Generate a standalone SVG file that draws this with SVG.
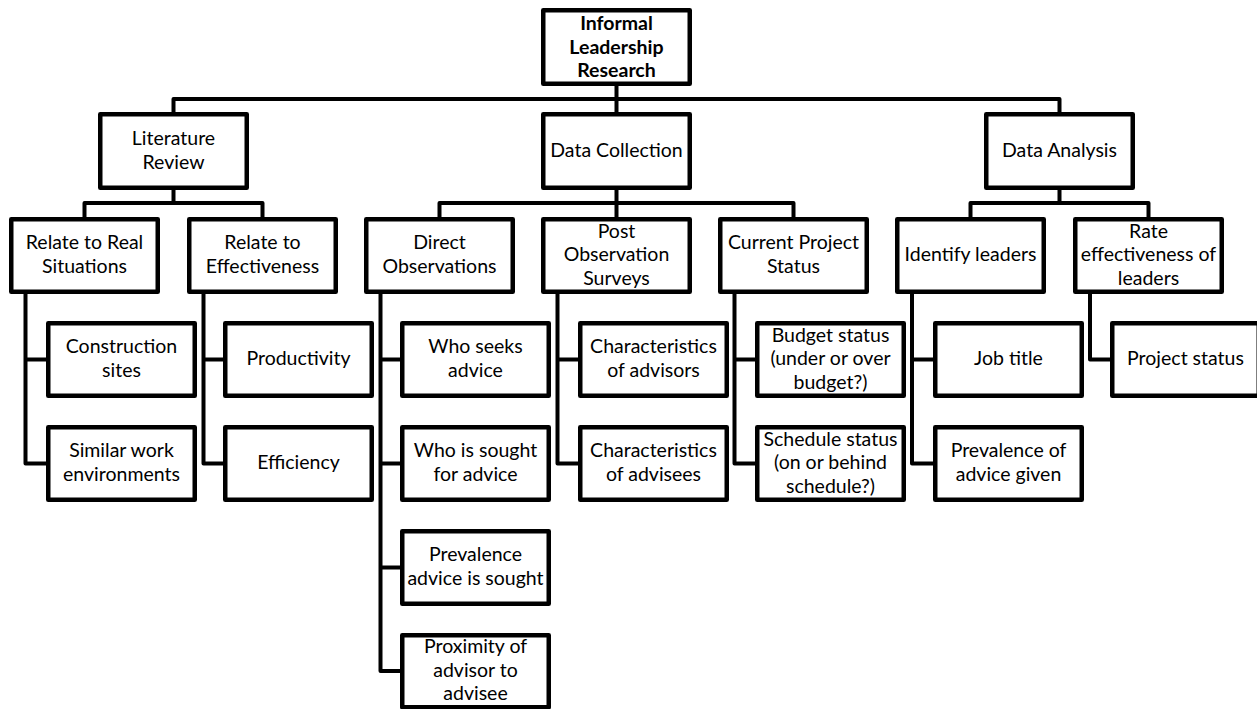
<svg xmlns="http://www.w3.org/2000/svg" width="1257" height="709" viewBox="0 0 1257 709">
<style>
.box{fill:#fff;stroke:#000;stroke-width:4.5;stroke-linejoin:round}
.ln{fill:none;stroke:#000;stroke-width:4;stroke-linejoin:round}
text{font-family:Lato,"Open Sans",sans-serif;font-size:19.5px;fill:#000;text-anchor:middle}
.b{font-weight:bold}
</style>
<rect width="1257" height="709" fill="#fff"/>
<g id="connectors">
<path class="ln" d="M616.5 86V217M173.5 112V99H1059.5V112"/>
<path class="ln" d="M173.5 190V203M84.5 217V203H262.5V217"/>
<path class="ln" d="M439.5 217V203H793.5V217"/>
<path class="ln" d="M1059.5 190V203M970.5 217V203H1148.5V217"/>
<path class="ln" d="M25.5 293V463.5H46M25.5 359.5H46"/>
<path class="ln" d="M203.5 293V463.5H223M203.5 359.5H223"/>
<path class="ln" d="M380.5 293V671H400M380.5 359.5H400M380.5 463.5H400M380.5 567.5H400"/>
<path class="ln" d="M557.5 293V463.5H578M557.5 359.5H578"/>
<path class="ln" d="M734.5 293V463.5H755M734.5 359.5H755"/>
<path class="ln" d="M912 293V463.5H933M912 359.5H933"/>
<path class="ln" d="M1090 293V359.5H1110"/>
</g>
<g id="root"><rect class="box" x="543.25" y="10.25" width="146.5" height="73.5"/>
<text class="b" x="616.5" y="30">Informal</text><text class="b" x="616.5" y="53.5">Leadership</text><text class="b" x="616.5" y="77">Research</text></g>
<g id="lit-review"><rect class="box" x="100.25" y="114.25" width="146.5" height="73.5"/>
<text x="173.5" y="145.3">Literature</text><text x="173.5" y="168.8">Review</text></g>
<g id="data-collection"><rect class="box" x="543.25" y="114.25" width="146.5" height="73.5"/>
<text x="616.5" y="157.3">Data Collection</text></g>
<g id="data-analysis"><rect class="box" x="986.25" y="114.25" width="146.5" height="73.5"/>
<text x="1059.5" y="157.3">Data Analysis</text></g>
<g id="relate-real"><rect class="box" x="11.25" y="219.25" width="146.5" height="72.5"/>
<text x="84.5" y="249.3">Relate to Real</text><text x="84.5" y="272.8">Situations</text></g>
<g id="relate-eff"><rect class="box" x="189.25" y="219.25" width="146.5" height="72.5"/>
<text x="262.5" y="249.3">Relate to</text><text x="262.5" y="272.8">Effectiveness</text></g>
<g id="direct-obs"><rect class="box" x="366.25" y="219.25" width="146.5" height="72.5"/>
<text x="439.5" y="249.3">Direct</text><text x="439.5" y="272.8">Observations</text></g>
<g id="post-obs"><rect class="box" x="543.25" y="219.25" width="146.5" height="72.5"/>
<text x="616.5" y="237.8">Post</text><text x="616.5" y="261.3">Observation</text><text x="616.5" y="284.8">Surveys</text></g>
<g id="current-status"><rect class="box" x="720.25" y="219.25" width="146.5" height="72.5"/>
<text x="793.5" y="249.3">Current Project</text><text x="793.5" y="272.8">Status</text></g>
<g id="identify"><rect class="box" x="897.25" y="219.25" width="146.5" height="72.5"/>
<text x="970.5" y="261.3">Identify leaders</text></g>
<g id="rate"><rect class="box" x="1075.25" y="219.25" width="146.5" height="72.5"/>
<text x="1148.5" y="237.8">Rate</text><text x="1148.5" y="261.3">effectiveness of</text><text x="1148.5" y="284.8">leaders</text></g>
<g id="construction"><rect class="box" x="48.25" y="323.25" width="146.5" height="72.5"/>
<text x="121.5" y="353.3">Construction</text><text x="121.5" y="376.8">sites</text></g>
<g id="similar"><rect class="box" x="48.25" y="427.25" width="146.5" height="72.5"/>
<text x="121.5" y="457.3">Similar work</text><text x="121.5" y="480.8">environments</text></g>
<g id="productivity"><rect class="box" x="225.25" y="323.25" width="146.5" height="72.5"/>
<text x="298.5" y="365.3">Productivity</text></g>
<g id="efficiency"><rect class="box" x="225.25" y="427.25" width="146.5" height="72.5"/>
<text x="298.5" y="469.3">Efficiency</text></g>
<g id="who-seeks"><rect class="box" x="402.25" y="323.25" width="146.5" height="72.5"/>
<text x="475.5" y="353.3">Who seeks</text><text x="475.5" y="376.8">advice</text></g>
<g id="who-sought"><rect class="box" x="402.25" y="427.25" width="146.5" height="72.5"/>
<text x="475.5" y="457.3">Who is sought</text><text x="475.5" y="480.8">for advice</text></g>
<g id="prevalence-sought"><rect class="box" x="402.25" y="531.25" width="146.5" height="72.5"/>
<text x="475.5" y="561.3">Prevalence</text><text x="475.5" y="584.8">advice is sought</text></g>
<g id="proximity"><rect class="box" x="402.25" y="635.25" width="146.5" height="72"/>
<text x="475.5" y="653.3">Proximity of</text><text x="475.5" y="676.8">advisor to</text><text x="475.5" y="700.3">advisee</text></g>
<g id="char-advisors"><rect class="box" x="580.25" y="323.25" width="146.5" height="72.5"/>
<text x="653.5" y="353.3">Characteristics</text><text x="653.5" y="376.8">of advisors</text></g>
<g id="char-advisees"><rect class="box" x="580.25" y="427.25" width="146.5" height="72.5"/>
<text x="653.5" y="457.3">Characteristics</text><text x="653.5" y="480.8">of advisees</text></g>
<g id="budget"><rect class="box" x="757.25" y="323.25" width="146.5" height="72.5"/>
<text x="830.5" y="341.8">Budget status</text><text x="830.5" y="365.3">(under or over</text><text x="830.5" y="388.8">budget?)</text></g>
<g id="schedule"><rect class="box" x="757.25" y="427.25" width="146.5" height="72.5"/>
<text x="830.5" y="445.8">Schedule status</text><text x="830.5" y="469.3">(on or behind</text><text x="830.5" y="492.8">schedule?)</text></g>
<g id="job-title"><rect class="box" x="935.25" y="323.25" width="146.5" height="72.5"/>
<text x="1008.5" y="365.3">Job title</text></g>
<g id="prevalence-given"><rect class="box" x="935.25" y="427.25" width="146.5" height="72.5"/>
<text x="1008.5" y="457.3">Prevalence of</text><text x="1008.5" y="480.8">advice given</text></g>
<g id="project-status"><rect class="box" x="1112.25" y="323.25" width="146.5" height="72.5"/>
<text x="1185.5" y="365.3">Project status</text></g>
</svg>
